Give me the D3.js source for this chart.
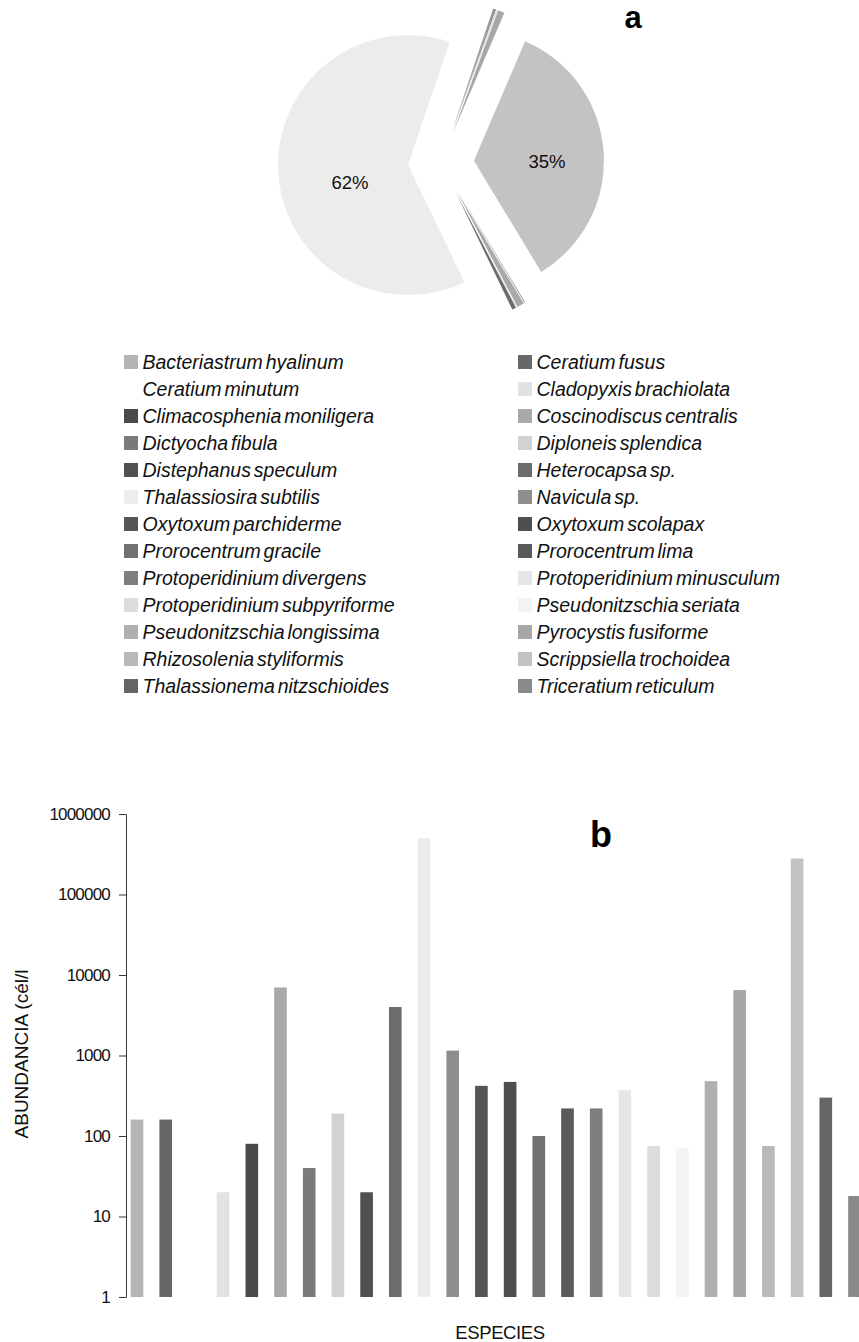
<!DOCTYPE html>
<html>
<head>
<meta charset="utf-8">
<script src="https://cdn.jsdelivr.net/npm/d3@7"></script>
<style>
  html, body { margin: 0; padding: 0; background: #fff; }
  svg { display: block; font-family: Arial, "Liberation Sans", Helvetica, sans-serif; }
</style>
</head>
<body>
<svg id="chart" width="859" height="1342"></svg>
<script>
// ---------- DATA ----------
const species = [
  "Bacteriastrum hyalinum", "Ceratium fusus",
  "Ceratium minutum", "Cladopyxis brachiolata",
  "Climacosphenia moniligera", "Coscinodiscus centralis",
  "Dictyocha fibula", "Diploneis splendica",
  "Distephanus speculum", "Heterocapsa sp.",
  "Thalassiosira subtilis", "Navicula sp.",
  "Oxytoxum parchiderme", "Oxytoxum scolapax",
  "Prorocentrum gracile", "Prorocentrum lima",
  "Protoperidinium divergens", "Protoperidinium minusculum",
  "Protoperidinium subpyriforme", "Pseudonitzschia seriata",
  "Pseudonitzschia longissima", "Pyrocystis fusiforme",
  "Rhizosolenia styliformis", "Scrippsiella trochoidea",
  "Thalassionema nitzschioides", "Triceratium reticulum"
];
const abundance = [
  160, 160,
  0, 20,
  80, 7000,
  40, 190,
  20, 4000,
  500000, 1150,
  420, 470,
  100, 220,
  220, 370,
  75, 70,
  480, 6500,
  75, 280000,
  300, 18
];
const yTicks = [1, 10, 100, 1000, 10000, 100000, 1000000];
const pieLabels = [{ name: "Thalassiosira subtilis", text: "62%" },
                   { name: "Scrippsiella trochoidea", text: "35%" }];

// ---------- STYLE ----------
const palette = [
  "#b4b4b4", "#676767",
  "#ffffff", "#e2e2e2",
  "#4a4a4a", "#a9a9a9",
  "#7a7a7a", "#d2d2d2",
  "#505050", "#6c6c6c",
  "#ececec", "#8e8e8e",
  "#555555", "#4e4e4e",
  "#717171", "#5a5a5a",
  "#7e7e7e", "#e6e6e6",
  "#dcdcdc", "#f3f3f3",
  "#b0b0b0", "#a7a7a7",
  "#b9b9b9", "#c3c3c3",
  "#666666", "#8a8a8a"
];

const data = species.map((s, i) => ({ name: s, value: abundance[i], color: palette[i], idx: i }));
const svg = d3.select("#chart");

// ---------- PIE (a) ----------
const cx = 441, cy = 163, R = 130, explode = 33;
const start = 149 * Math.PI / 180;
const pie = d3.pie().value(d => d.value).sort(null)
  .startAngle(start).endAngle(start + 2 * Math.PI);
const arc = d3.arc().innerRadius(0).outerRadius(R);
const arcs = pie(data).filter(d => d.data.value > 0);

const gPie = svg.append("g").attr("transform", `translate(${cx},${cy})`);
gPie.selectAll("path").data(arcs).join("path")
  .attr("d", arc)
  .attr("fill", d => d.data.color)
  .attr("transform", d => {
    const m = (d.startAngle + d.endAngle) / 2;
    return `translate(${explode * Math.sin(m)},${-explode * Math.cos(m)})`;
  });

// percentage labels
const labelPos = { "Thalassiosira subtilis": [-91, 26], "Scrippsiella trochoidea": [106, 5] };
pieLabels.forEach(l => {
  const p = labelPos[l.name];
  gPie.append("text").attr("x", p[0]).attr("y", p[1])
    .attr("text-anchor", "middle").attr("font-size", 18.5).attr("fill", "#111")
    .text(l.text);
});

svg.append("text").attr("x", 633).attr("y", 28).attr("text-anchor", "middle")
  .attr("font-size", 31).attr("font-weight", "bold").text("a");

// ---------- LEGEND ----------
const legRow0 = 362, legStep = 27;
const gLeg = svg.append("g");
data.forEach((d, i) => {
  const col = i % 2, row = Math.floor(i / 2);
  const sx = col === 0 ? 124 : 518;
  const y = legRow0 + row * legStep;
  gLeg.append("rect").attr("x", sx).attr("y", y - 7).attr("width", 14).attr("height", 14)
    .attr("fill", d.color);
  gLeg.append("text").attr("x", sx + 18.5).attr("y", y + 7)
    .attr("font-size", 19.5).attr("font-style", "italic").attr("fill", "#111")
    .attr("word-spacing", -2.5)
    .text(d.name);
});

// ---------- BAR CHART (b) ----------
const yTop = 814, yBot = 1297, axisX = 126;
const step = 28.7;
const x = d3.scaleBand().domain(species)
  .range([137 - step / 2, 137 - step / 2 + step * species.length])
  .paddingInner(0.56).paddingOuter(0.28);
const y = d3.scaleLog().domain([1, 1000000]).range([yBot, yTop]);

svg.append("g").selectAll("rect").data(data.filter(d => d.value > 0)).join("rect")
  .attr("x", d => x(d.name))
  .attr("width", x.bandwidth())
  .attr("y", d => y(d.value))
  .attr("height", d => yBot - y(d.value))
  .attr("fill", d => d.color);

const yAxis = d3.axisLeft(y).tickValues(yTicks).tickFormat(d3.format("d"))
  .tickSize(7).tickPadding(9).tickSizeOuter(0);
const gY = svg.append("g").attr("transform", `translate(${axisX},0)`).call(yAxis);
gY.select(".domain").attr("stroke", "#333");
gY.selectAll(".tick line").attr("stroke", "#333");
gY.selectAll(".tick text").attr("font-size", 17).attr("letter-spacing", -0.8)
  .attr("fill", "#111").attr("font-family", "Arial, 'Liberation Sans', sans-serif");

svg.append("text")
  .attr("transform", `translate(28,1054) rotate(-90)`)
  .attr("text-anchor", "middle").attr("font-size", 19).attr("fill", "#111")
  .text("ABUNDANCIA (cél/l");

svg.append("text").attr("x", 500).attr("y", 1339).attr("text-anchor", "middle")
  .attr("font-size", 18.5).attr("letter-spacing", -0.4).attr("fill", "#111")
  .text("ESPECIES");

svg.append("text").attr("x", 601).attr("y", 847).attr("text-anchor", "middle")
  .attr("font-size", 36).attr("font-weight", "bold").text("b");
</script>
</body>
</html>
